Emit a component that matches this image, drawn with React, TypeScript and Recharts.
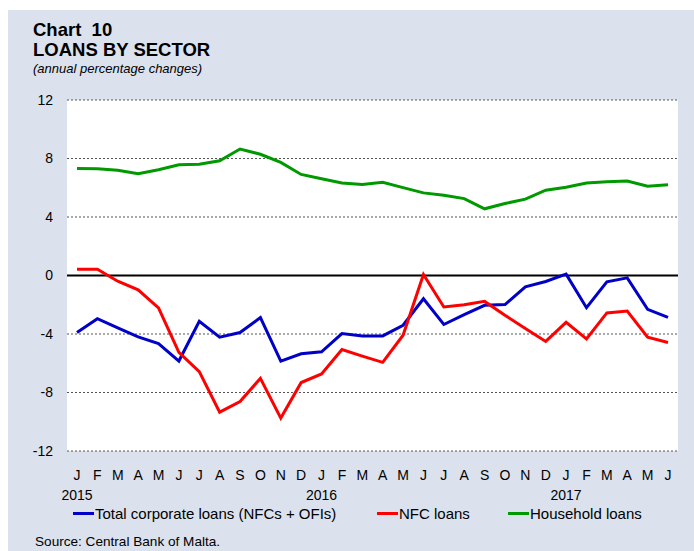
import { LineChart, Line, XAxis, YAxis, CartesianGrid, ReferenceLine } from 'recharts';

// Jan 2015 – Jun 2017, monthly
const months = [
  'J', 'F', 'M', 'A', 'M', 'J', 'J', 'A', 'S', 'O', 'N', 'D',
  'J', 'F', 'M', 'A', 'M', 'J', 'J', 'A', 'S', 'O', 'N', 'D',
  'J', 'F', 'M', 'A', 'M', 'J',
];
const years: Record<number, string> = { 0: '2015', 12: '2016', 24: '2017' };

const totalCorporate = [
  -3.9, -2.95, -3.58, -4.2, -4.65, -5.85, -3.13, -4.22, -3.9, -2.88,
  -5.85, -5.35, -5.22, -3.97, -4.13, -4.13, -3.4, -1.59, -3.35, -2.68,
  -2.04, -1.99, -0.77, -0.41, 0.09, -2.2, -0.43, -0.16, -2.31, -2.86,
];
const nfcLoans = [
  0.43, 0.43, -0.39, -0.98, -2.22, -5.26, -6.57, -9.34, -8.62, -7.03,
  -9.75, -7.32, -6.73, -5.06, -5.51, -5.94, -4.08, 0.07, -2.15, -2.0,
  -1.77, -2.72, -3.63, -4.51, -3.2, -4.33, -2.56, -2.43, -4.22, -4.58,
];
const householdLoans = [
  7.32, 7.3, 7.2, 6.96, 7.23, 7.57, 7.61, 7.84, 8.65, 8.29,
  7.73, 6.91, 6.62, 6.32, 6.23, 6.37, 6.01, 5.65, 5.49, 5.26,
  4.56, 4.92, 5.22, 5.83, 6.03, 6.32, 6.41, 6.46, 6.1, 6.21,
];
const yTicks = [-12, -8, -4, 0, 4, 8, 12];

const series = [
  { key: 'total', name: 'Total corporate loans (NFCs + OFIs)', color: '#0000c8', left: 65 },
  { key: 'nfc', name: 'NFC loans', color: '#ff0000', left: 369 },
  { key: 'household', name: 'Household loans', color: '#009900', left: 500 },
];

const data = months.map((m, i) => ({
  m,
  total: totalCorporate[i],
  nfc: nfcLoans[i],
  household: householdLoans[i],
}));

const FONT = 'Arial, "Liberation Sans", sans-serif';

function MonthTick({ x, y, payload }: any) {
  const year = years[payload.index];
  return (
    <g>
      <text x={x} y={y + 21} textAnchor="middle" fontSize={14} fill="#000" fontFamily={FONT}>
        {payload.value}
      </text>
      {year && (
        <text x={x} y={y + 41} textAnchor="middle" fontSize={14} fill="#000" fontFamily={FONT}>
          {year}
        </text>
      )}
    </g>
  );
}

export default function App() {
  return (
    <div
      style={{
        position: 'absolute',
        left: 8,
        top: 10,
        width: 686,
        height: 541,
        background: '#dbe2ee',
        fontFamily: FONT,
        color: '#000',
      }}
    >
      <div style={{ position: 'absolute', left: 25, top: 10, fontSize: 18.5, fontWeight: 'bold', lineHeight: '20px', whiteSpace: 'pre' }}>
        {'Chart  10\nLOANS BY SECTOR'}
      </div>
      <div style={{ position: 'absolute', left: 25, top: 51, fontSize: 13, fontStyle: 'italic' }}>
        (annual percentage changes)
      </div>

      <LineChart
        width={686}
        height={541}
        data={data}
        margin={{ top: 90, right: 16, bottom: 60, left: 19 }}
        style={{ position: 'absolute', left: 0, top: 0 }}
      >
        <CartesianGrid vertical={false} fill="#ffffff" stroke="#555" strokeDasharray="2 2" />
        <XAxis
          dataKey="m"
          interval={0}
          padding={{ left: 10, right: 10 }}
          axisLine={false}
          tickLine={false}
          height={40}
          tick={<MonthTick />}
        />
        <YAxis
          domain={[-12, 12]}
          ticks={yTicks}
          width={40}
          axisLine={false}
          tickLine={false}
          tickSize={0}
          tickMargin={14}
          tick={{ fontSize: 14, fill: '#000', fontFamily: FONT }}
        />
        <ReferenceLine y={0} stroke="#000" strokeWidth={2} />
        {series.map((s) => (
          <Line
            key={s.key}
            dataKey={s.key}
            name={s.name}
            stroke={s.color}
            strokeWidth={3}
            dot={false}
            type="linear"
            isAnimationActive={false}
          />
        ))}
      </LineChart>

      {series.map((s) => (
        <div
          key={s.key}
          style={{ position: 'absolute', left: s.left, top: 495, fontSize: 15, display: 'flex', alignItems: 'center', whiteSpace: 'nowrap' }}
        >
          <span style={{ display: 'inline-block', width: 21, height: 3, background: s.color, marginRight: 1 }} />
          {s.name}
        </div>
      ))}

      <div style={{ position: 'absolute', left: 27, top: 524, fontSize: 13.6 }}>
        Source: Central Bank of Malta.
      </div>
    </div>
  );
}
